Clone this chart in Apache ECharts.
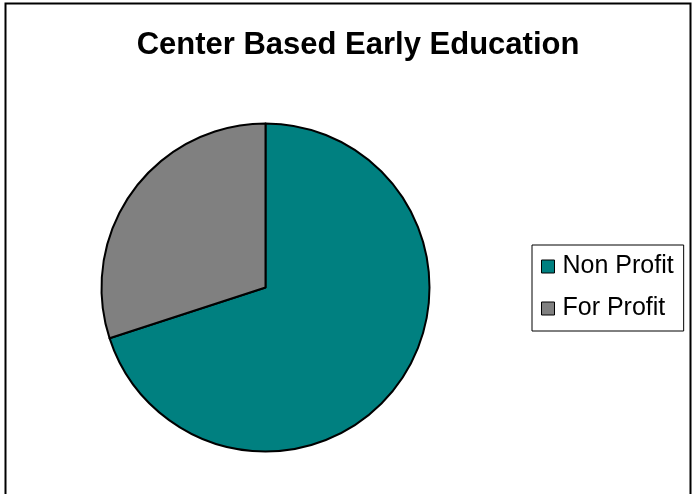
<!DOCTYPE html>
<html>
<head>
<meta charset="utf-8">
<script src="https://cdn.jsdelivr.net/npm/echarts@6/dist/echarts.min.js"></script>
<style>
  html, body { margin: 0; padding: 0; background: #fff; }
  #chart { width: 692px; height: 494px; }
</style>
</head>
<body>
<div id="chart"></div>
<script>
// Share of centre-based early education programmes by provider type
const categories = ['Non Profit', 'For Profit'];
const shares = [70, 30];
const colors = ['#008080', '#808080'];

const chart = echarts.init(document.getElementById('chart'), null, { renderer: 'canvas' });

chart.setOption({
  animation: false,
  backgroundColor: '#ffffff',
  title: {
    text: 'Center Based Early Education',
    left: 353,
    top: 25,
    textAlign: 'center',
    textStyle: {
      fontFamily: 'Liberation Sans, Arial, sans-serif',
      fontSize: 31,
      fontWeight: 'bold',
      color: '#000'
    }
  },
  legend: {
    orient: 'vertical',
    left: 532,
    top: 245,
    padding: [9, 10, 10, 9],
    itemGap: 17,
    itemWidth: 13,
    itemHeight: 13,
    icon: 'rect',
    borderColor: '#000',
    borderWidth: 1,
    itemStyle: { borderColor: '#000', borderWidth: 1 },
    textStyle: {
      fontFamily: 'Liberation Sans, Arial, sans-serif',
      fontSize: 25,
      color: '#000',
      padding: [0, 0, 0, 3]
    },
    data: categories
  },
  graphic: [{
    type: 'rect',
    shape: { x: 5.5, y: 3.5, width: 685, height: 520 },
    style: { fill: 'none', stroke: '#000', lineWidth: 2 },
    silent: true
  }],
  series: [{
    type: 'pie',
    center: [265.5, 287.5],
    radius: 164,
    startAngle: 90,
    clockwise: true,
    label: { show: false },
    labelLine: { show: false },
    emphasis: { disabled: true },
    itemStyle: { borderColor: '#000', borderWidth: 2 },
    data: categories.map((name, i) => ({
      name: name,
      value: shares[i],
      itemStyle: { color: colors[i] }
    }))
  }]
});
</script>
</body>
</html>
